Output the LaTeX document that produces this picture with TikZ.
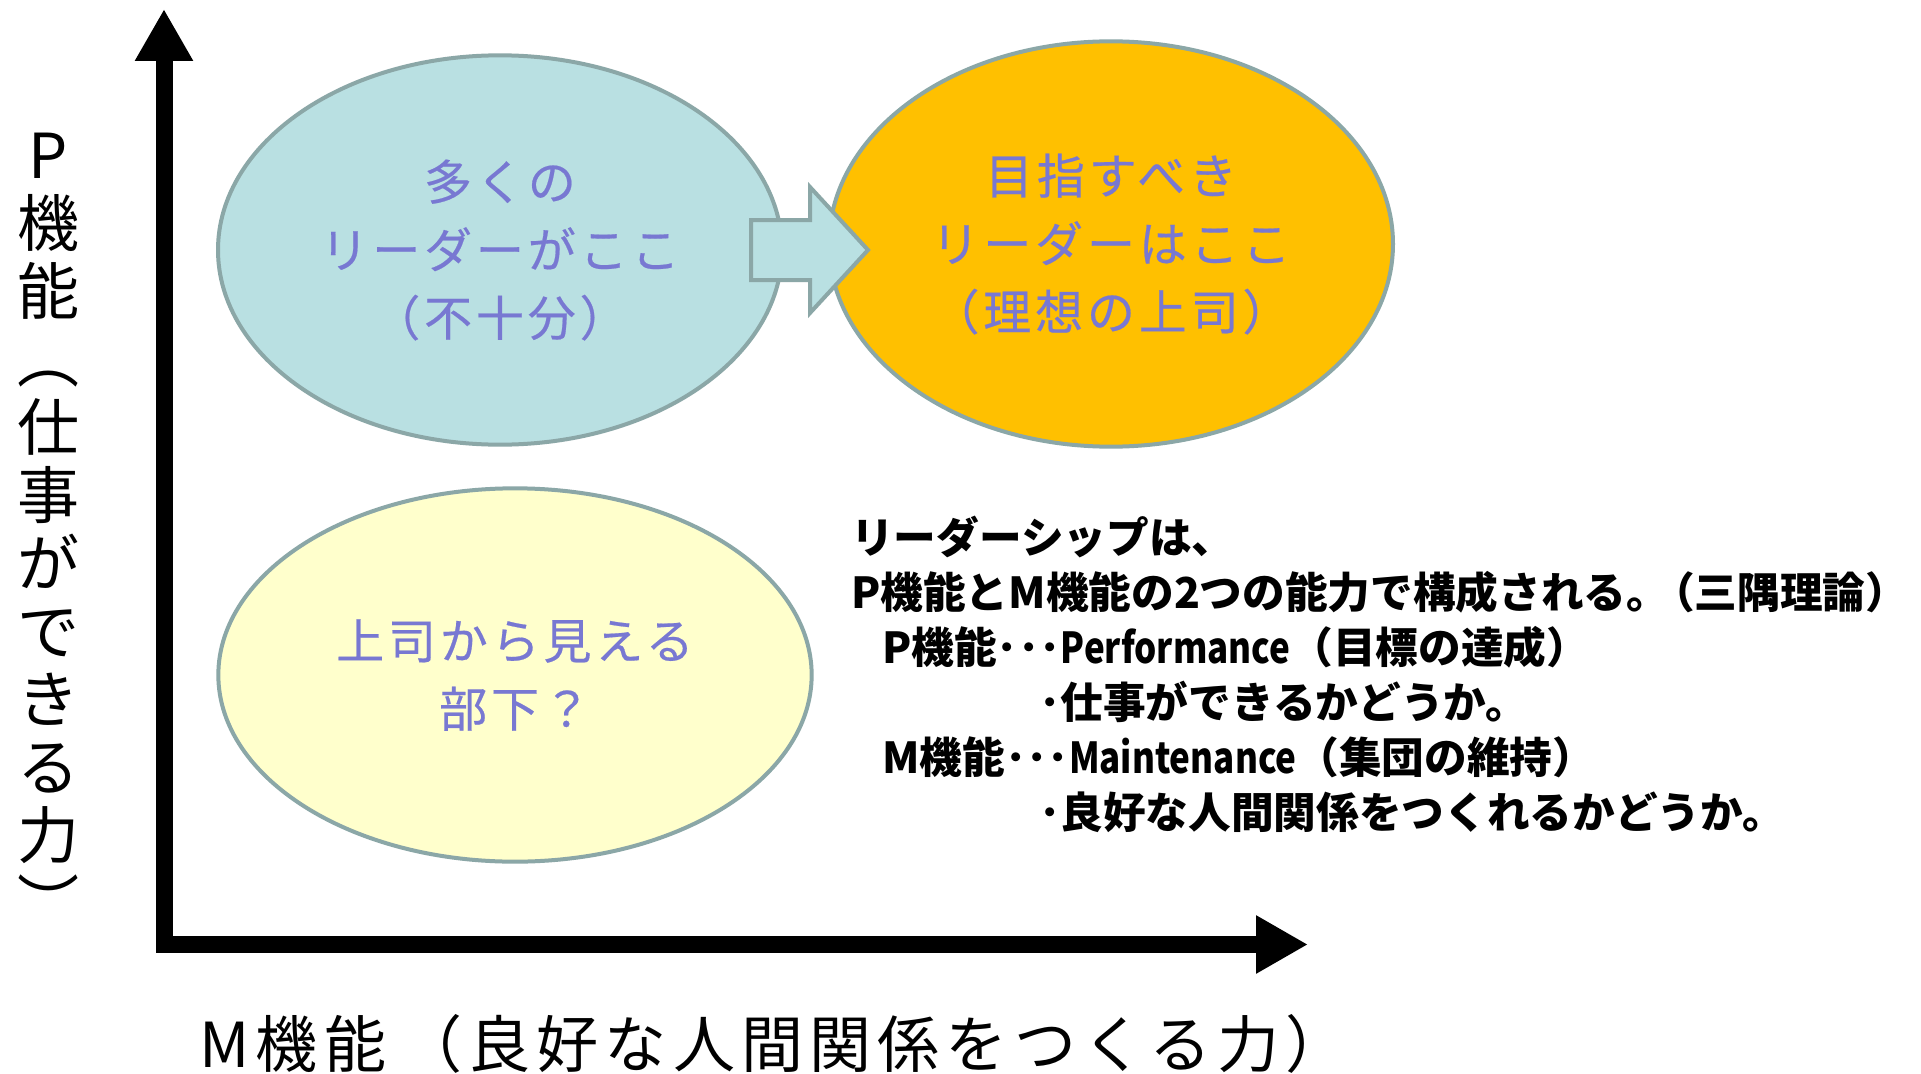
\documentclass[tikz,border=0pt]{standalone}
\usepackage{fontspec}
\newfontfamily\jp{Noto Sans CJK JP}
\newfontfamily\jpaxis[LetterSpace=10]{Noto Sans CJK JP}
\newfontfamily\jpell[LetterSpace=8,FakeBold=0.4]{Noto Sans CJK JP}
\usetikzlibrary{shapes.geometric,arrows.meta}
\definecolor{paleblue}{HTML}{B9E0E2}
\definecolor{edgegray}{HTML}{8BA7A7}
\definecolor{goldfill}{HTML}{FFC000}
\definecolor{creamfill}{HTML}{FFFFCC}
\definecolor{violettext}{HTML}{7878D2}
\newcommand{\narrowlatin}[1]{\scalebox{0.82}[1]{#1}}
\tikzset{
  bubble/.style={ellipse, draw=edgegray, line width=3pt, inner sep=0pt, align=center,
    text=violettext, font=\jpell\fontsize{36}{51}\selectfont},
  axislabel/.style={inner sep=0pt, align=center, text=black, font=\jpaxis\fontsize{46.5}{51}\selectfont},
  axisline/.style={line width=12.75pt, line join=miter, black},
  blockarrow/.style={fill=paleblue, draw=edgegray, line width=3pt, line join=miter},
  notes/.style={inner sep=0pt, align=left, text=black, font=\jp\bfseries\fontsize{32}{41.25}\selectfont}
}
\begin{document}
\begin{tikzpicture}[x=0.75pt,y=-0.75pt]
\useasboundingbox[fill=white] (0,0) rectangle (1921,1074);

% axes
\coordinate (ytop) at (164,9);
\coordinate (origin) at (164,944.5);
\coordinate (xend) at (1308,944.5);
\draw[axisline, {Triangle[length=39pt,width=41pt]}-{Triangle[length=39pt,width=41pt]}]
  (ytop) -- (origin) -- (xend);

% ellipses
\node[bubble, fill=paleblue, minimum width=423pt, minimum height=292pt] (many) at (500,250)
  {多くの\\リーダーがここ\\（不十分）};
\node[bubble, fill=goldfill, minimum width=423pt, minimum height=304pt] (ideal) at (1111,244)
  {\raisebox{-4pt}{目指すべき}\\\raisebox{-4pt}{リーダーはここ}\\\raisebox{-4pt}{（理想の上司）}};
\node[bubble, fill=creamfill, minimum width=445pt, minimum height=280pt] (sub) at (515,675)
  {上司から見える\\部下？};

% block arrow
\draw[blockarrow] (751,220) -- (810,220) -- (810,187) -- (868,250) -- (810,313) -- (810,280) -- (751,280) -- cycle;

% axis labels
\node[axislabel] (plabel) at (48,530)
  {P\\機\\能\\︵\\仕\\事\\が\\で\\き\\る\\力\\︶};
\node[axislabel] (mlabel) at (773.6,1044)
  {M機能\hspace{10.6pt}（良好な人間関係をつくる力）};

% notes
\node[notes, anchor=north west] (notes) at (851,516)
  {リーダーシップは、\\
   P機能とM機能の2つの能力で構成される。\kern-0.4em（三隅理論）\\
   \hspace*{23.25pt}P機能･･･\narrowlatin{Performance}（目標の達成）\\
   \hspace*{141pt}･仕事ができるかどうか。\\
   \hspace*{23.25pt}M機能･･･\narrowlatin{Maintenance}（集団の維持）\\
   \hspace*{141pt}･良好な人間関係をつくれるかどうか。};
\end{tikzpicture}
\end{document}
